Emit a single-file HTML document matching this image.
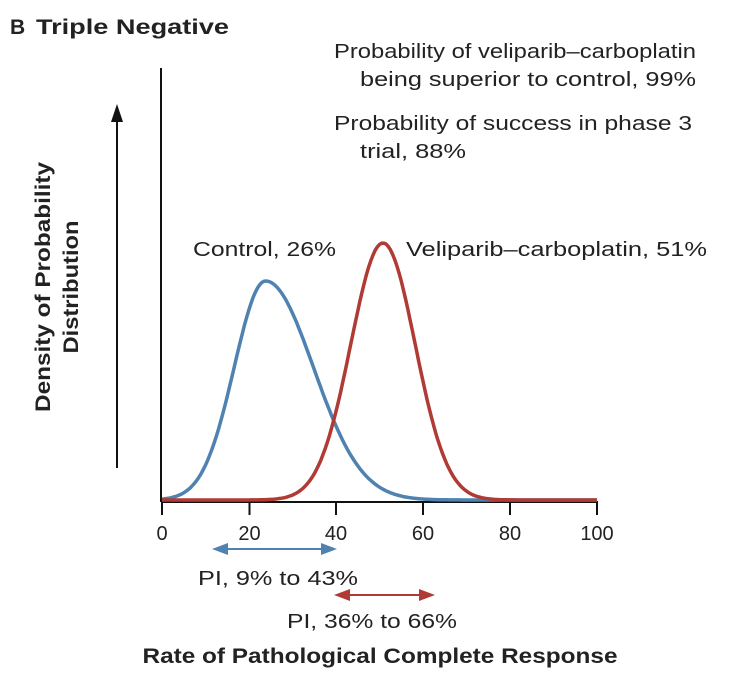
<!DOCTYPE html><html><head><style>
body{margin:0;background:#fff;width:736px;height:684px;overflow:hidden}
text{font-family:"Liberation Sans",sans-serif;fill:#222}
</style></head><body>
<svg width="736" height="684" viewBox="0 0 736 684">
<text x="10" y="34" font-size="21" font-weight="bold">B</text>
<text x="36" y="34" font-size="21" font-weight="bold" textLength="193" lengthAdjust="spacingAndGlyphs">Triple Negative</text>
<g font-size="20">
<text x="334" y="58" textLength="362" lengthAdjust="spacingAndGlyphs">Probability of veliparib–carboplatin</text>
<text x="360" y="86" textLength="336" lengthAdjust="spacingAndGlyphs">being superior to control, 99%</text>
<text x="334" y="130" textLength="358" lengthAdjust="spacingAndGlyphs">Probability of success in phase 3</text>
<text x="360" y="158" textLength="106" lengthAdjust="spacingAndGlyphs">trial, 88%</text>
<text x="193" y="256" textLength="143" lengthAdjust="spacingAndGlyphs">Control, 26%</text>
<text x="406" y="256" textLength="301" lengthAdjust="spacingAndGlyphs">Veliparib–carboplatin, 51%</text>
</g>
<g font-size="21" font-weight="bold" text-anchor="middle">
<text transform="translate(50,287) rotate(-90)" textLength="250" lengthAdjust="spacingAndGlyphs">Density of Probability</text>
<text transform="translate(78,287) rotate(-90)" textLength="133" lengthAdjust="spacingAndGlyphs">Distribution</text>
<text x="380" y="663" textLength="475" lengthAdjust="spacingAndGlyphs">Rate of Pathological Complete Response</text>
</g>
<line x1="117" y1="468" x2="117" y2="118" stroke="#111" stroke-width="2"/>
<polygon points="117,104 111,122 123,122" fill="#111"/>
<line x1="161" y1="68" x2="161" y2="502" stroke="#111" stroke-width="2"/>
<line x1="161" y1="502" x2="598" y2="502" stroke="#111" stroke-width="2"/>
<g stroke="#111" stroke-width="2">
<line x1="162" y1="502" x2="162" y2="515"/><line x1="249.5" y1="502" x2="249.5" y2="515"/><line x1="336" y1="502" x2="336" y2="515"/><line x1="423" y1="502" x2="423" y2="515"/><line x1="510" y1="502" x2="510" y2="515"/><line x1="597" y1="502" x2="597" y2="515"/>
</g>
<g font-size="20" text-anchor="middle">
<text x="162" y="540">0</text><text x="249.5" y="540">20</text><text x="336" y="540">40</text><text x="423" y="540">60</text><text x="510" y="540">80</text><text x="597" y="540">100</text>
<text x="278" y="585" textLength="160" lengthAdjust="spacingAndGlyphs">PI, 9% to 43%</text>
<text x="372" y="628" textLength="170" lengthAdjust="spacingAndGlyphs">PI, 36% to 66%</text>
</g>
<line x1="222" y1="549" x2="328" y2="549" stroke="#4f82b0" stroke-width="2"/>
<polygon points="212,549 228,543 228,555" fill="#4f82b0"/><polygon points="337,549 321,543 321,555" fill="#4f82b0"/>
<line x1="344" y1="595" x2="426" y2="595" stroke="#b03a34" stroke-width="2"/>
<polygon points="334,595 350,589 350,601" fill="#b03a34"/><polygon points="435,595 419,589 419,601" fill="#b03a34"/>
<path id="b" fill="none" stroke="#4f82b0" stroke-width="3.5"/>
<path id="r" fill="none" stroke="#b03a34" stroke-width="3.5"/>
</svg>
<script>
function X(v){return 162+v*4.35}
function mk(mu,sl,sr,h){var d="";for(var v=0;v<=100;v+=0.5){var s=v<mu?sl:sr;var y=500-h*Math.exp(-(v-mu)*(v-mu)/(2*s*s));d+=(v?"L":"M")+X(v).toFixed(1)+","+y.toFixed(1);}return d}
document.getElementById("b").setAttribute("d",mk(23.8,7.2,11,219));
document.getElementById("r").setAttribute("d",mk(50.8,7.4,7.4,257));
</script>
</body></html>
